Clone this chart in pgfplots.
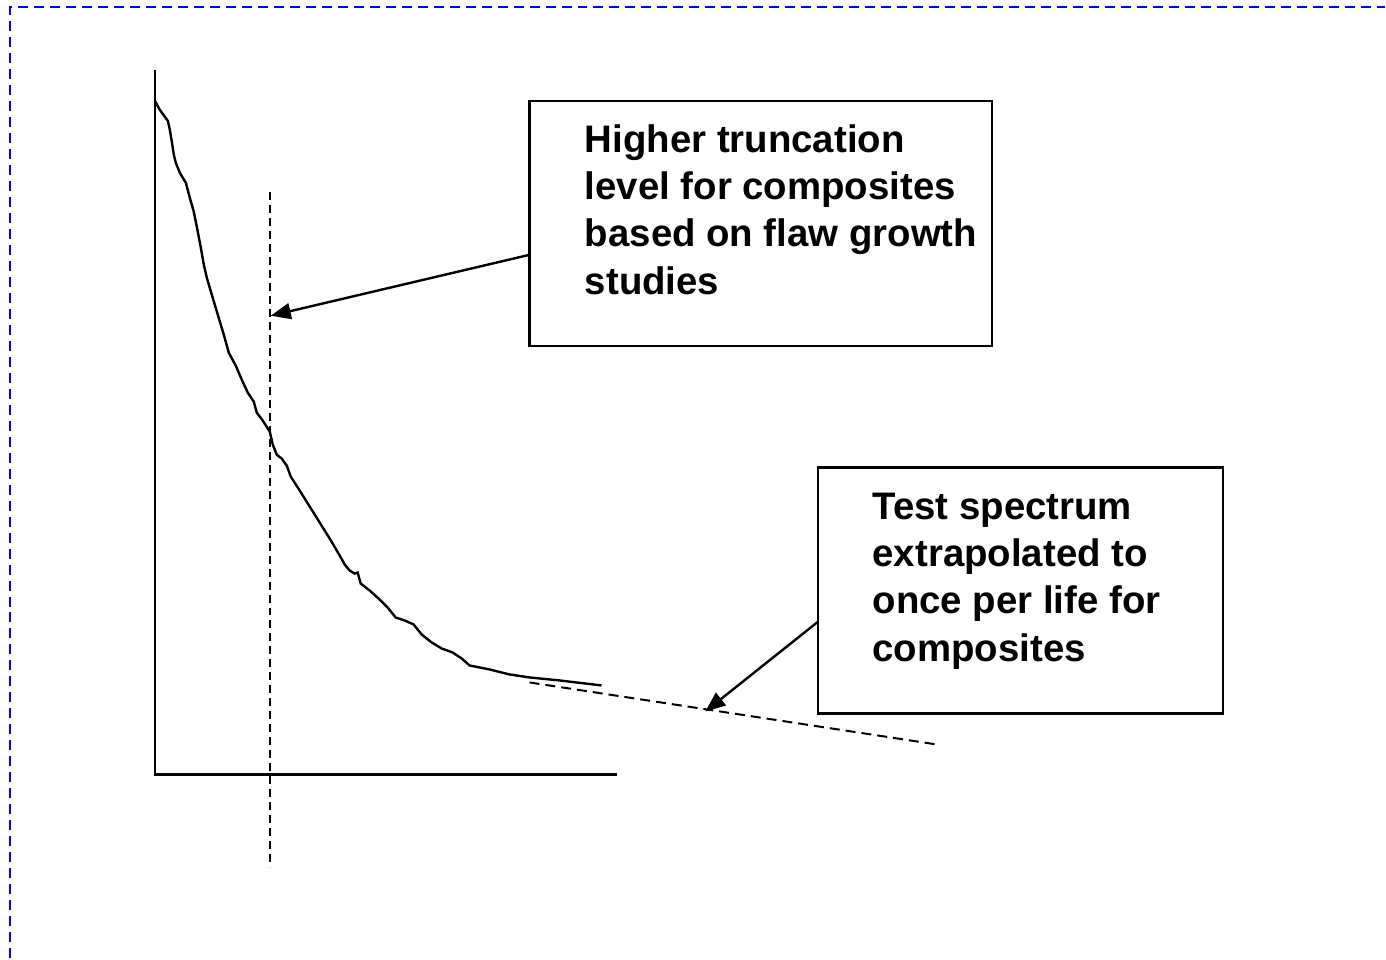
\documentclass[border=0pt]{standalone}
\usepackage{pgfplots}
\pgfplotsset{compat=1.18}
\usepackage{fontspec}
\setmainfont{Liberation Sans}
\usetikzlibrary{arrows.meta}
\begin{document}
\begin{tikzpicture}
\begin{axis}[x=0.5pt, y=0.5pt, y dir=reverse, xmin=0, xmax=1386, ymin=0, ymax=959,
  hide axis, clip=false, anchor=origin, at={(0,0)}]
\path (axis cs:0,0) rectangle (axis cs:1386,959);
% frame
\draw[blue, line width=1.2pt, dash pattern=on 5pt off 3pt] (axis cs:10,959) -- (axis cs:10,7) -- (axis cs:1386,7);
% axes
\addplot[black, line width=1.2pt] coordinates {(155,70) (155,775) (618,775)};
% truncation line
\addplot[black, line width=1pt, dash pattern=on 4pt off 2.5pt] coordinates {(270,192) (270,868)};
% curve
\addplot[black, line width=1.2pt] coordinates {
(155,101) (160,110) (168,121) (170,130) (172,142) (174,155) (176,163) (180,173) (186,183)
(190,198) (194,212) (197,227) (201,248) (204,265) (207,278) (212,295) (218,315)
(224,335) (229,353) (236,366) (242,380) (248,393) (254,402) (257,413) (263,421) (270,432)
(273,445) (277,455) (282,459) (287,466) (291,477) (300,491) (310,507) (320,523)
(330,539) (340,556) (345,565) (350,571) (355,574) (358,573) (361,584) (370,591) (380,600)
(388,608) (396,618) (405,621) (414,625) (418,630) (422,635) (432,643) (442,649)
(453,653) (462,659) (470,666) (490,670) (510,675) (530,678) (560,681) (602,686)};
% extrapolation
\addplot[black, line width=1pt, dash pattern=on 5pt off 3pt] coordinates {(530,683) (937,745)};
% boxes
\draw[black, line width=1.2pt, fill=white] (axis cs:530,101) rectangle (axis cs:993,346);
\draw[black, line width=1.2pt, fill=white] (axis cs:819,468) rectangle (axis cs:1224,714);
% arrows
\draw[black, line width=1.2pt, -{Triangle[length=10pt,width=8pt]}] (axis cs:530,255) -- (axis cs:271,316);
\draw[black, line width=1.2pt, -{Triangle[length=10pt,width=8pt]}] (axis cs:819,622) -- (axis cs:706,712);
% texts
\begin{scope}[every node/.style={anchor=base west, inner sep=0pt, font=\fontsize{19.2}{23.5}\selectfont\bfseries}]
\node at (axis cs:585,153) {Higher truncation};
\node at (axis cs:585,200) {level for composites};
\node at (axis cs:585,247) {based on flaw growth};
\node at (axis cs:585,295) {studies};
\node at (axis cs:873,520) {Test spectrum};
\node at (axis cs:873,567) {extrapolated to};
\node at (axis cs:873,614) {once per life for};
\node at (axis cs:873,662) {composites};
\end{scope}
\end{axis}
\end{tikzpicture}
\end{document}
